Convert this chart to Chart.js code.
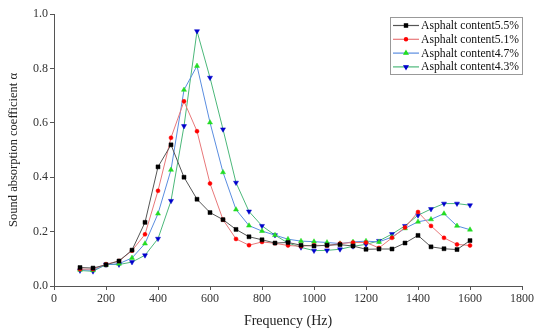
<!DOCTYPE html>
<html>
<head>
<meta charset="utf-8">
<script src="https://cdn.jsdelivr.net/npm/chart.js@4.4.0/dist/chart.umd.min.js"></script>
<style>
html,body{margin:0;padding:0;background:#fff;}
#wrap{width:550px;height:333px;position:relative;}
</style>
</head>
<body>
<div id="wrap"><canvas id="c"></canvas></div>
<script>
const frequencies = [100,150,200,250,300,350,400,450,500,550,600,650,700,750,800,850,900,950,1000,1050,1100,1150,1200,1250,1300,1350,1400,1450,1500,1550,1600];
const asphalt55 = [0.068,0.066,0.078,0.092,0.132,0.234,0.438,0.519,0.400,0.319,0.270,0.244,0.208,0.181,0.170,0.158,0.160,0.150,0.147,0.150,0.152,0.147,0.135,0.136,0.136,0.158,0.186,0.144,0.137,0.134,0.167];
const asphalt51 = [0.062,0.062,0.080,0.092,0.130,0.190,0.350,0.545,0.679,0.569,0.377,0.244,0.173,0.150,0.162,0.157,0.149,0.146,0.150,0.148,0.156,0.160,0.160,0.140,0.177,0.215,0.272,0.221,0.177,0.153,0.149];
const asphalt47 = [0.060,0.058,0.078,0.082,0.103,0.156,0.266,0.427,0.721,0.809,0.601,0.418,0.281,0.222,0.202,0.187,0.172,0.165,0.163,0.160,0.156,0.162,0.165,0.162,0.180,0.212,0.236,0.245,0.266,0.221,0.207];
const asphalt43 = [0.057,0.054,0.079,0.079,0.088,0.113,0.174,0.313,0.588,0.937,0.766,0.576,0.380,0.274,0.221,0.187,0.158,0.142,0.130,0.131,0.135,0.146,0.153,0.166,0.191,0.221,0.260,0.283,0.303,0.303,0.297];
const seriesLabels = ['Asphalt content5.5%','Asphalt content5.1%','Asphalt content4.7%','Asphalt content4.3%'];
const xTicks = [0,200,400,600,800,1000,1200,1400,1600,1800];
const yTicks = [0,0.2,0.4,0.6,0.8,1.0];

const FONT = "'Liberation Serif','Times New Roman',serif";

function pts(vals){ return frequencies.map((f,i)=>({x:f,y:vals[i]})); }

const styles = [
  {line:'#555555', mark:'#000000', shape:'rect', rot:0, r:2.8},
  {line:'#e8787a', mark:'#ff0000', shape:'circle', rot:0, r:2.0},
  {line:'#5a8de0', mark:'#22dd22', shape:'triangle', rot:0, r:2.9},
  {line:'#4cb87a', mark:'#0000cc', shape:'triangle', rot:180, r:2.9}
];
const allVals = [asphalt55, asphalt51, asphalt47, asphalt43];

const datasets = allVals.map((v,i)=>({
  label: seriesLabels[i],
  data: pts(v),
  borderColor: styles[i].line,
  borderWidth: 1,
  pointStyle: styles[i].shape,
  pointRotation: styles[i].rot,
  pointRadius: styles[i].r,
  pointBackgroundColor: styles[i].mark,
  pointBorderColor: styles[i].mark,
  pointBorderWidth: 0.5,
  tension: 0,
  fill: false
}));

const boxLegend = {
  id: 'boxLegend',
  afterDraw(chart){
    const ctx = chart.ctx;
    const x0 = 390, y0 = 17, w = 132, h = 57;
    ctx.save();
    ctx.fillStyle = '#fff';
    ctx.fillRect(x0,y0,w,h);
    ctx.strokeStyle = '#999';
    ctx.lineWidth = 1;
    ctx.strokeRect(x0+0.5,y0+0.5,w,h);
    ctx.font = '11.7px ' + FONT;
    ctx.textBaseline = 'middle';
    chart.data.datasets.forEach((ds,i)=>{
      const yy = y0 + 8.5 + i*13.8;
      ctx.strokeStyle = ds.borderColor;
      ctx.lineWidth = 1.2;
      ctx.beginPath(); ctx.moveTo(x0+3, yy); ctx.lineTo(x0+29, yy); ctx.stroke();
      ctx.fillStyle = ds.pointBackgroundColor;
      ctx.strokeStyle = ds.pointBorderColor;
      Chart.helpers.drawPoint(ctx, {pointStyle: ds.pointStyle, rotation: ds.pointRotation, radius: ds.pointRadius*0.8, borderWidth: 0.5}, x0+16, yy);
      ctx.fillStyle = '#111';
      ctx.fillText(ds.label, x0+31, yy+0.5);
    });
    ctx.restore();
  }
};

new Chart(document.getElementById('c'), {
  type: 'line',
  data: { datasets },
  plugins: [boxLegend],
  options: {
    responsive: true,
    maintainAspectRatio: false,
    animation: false,
    layout: { padding: { top: 14, right: 28, left: 0, bottom: 0 } },
    plugins: { legend: { display: false }, tooltip: { enabled: false } },
    scales: {
      x: {
        type: 'linear',
        min: 0, max: 1800,
        afterBuildTicks: s => { s.ticks = xTicks.map(v=>({value:v})); },
        afterFit: s => { s.height = 47; },
        ticks: { font: { family: FONT, size: 12 }, color: '#333', padding: 2, maxRotation: 0, callback: v => String(v) },
        grid: { display: true, drawOnChartArea: false, drawTicks: true, tickLength: 4, color: '#555' },
        border: { display: true, color: '#555', width: 1 },
        title: { display: true, text: 'Frequency (Hz)', font: { family: FONT, size: 14 }, color: '#222', padding: { top: 0, bottom: 3 } }
      },
      y: {
        type: 'linear',
        min: 0, max: 1,
        afterBuildTicks: s => { s.ticks = yTicks.map(v=>({value:v})); },
        afterFit: s => { s.width = 54; },
        ticks: { font: { family: FONT, size: 12 }, color: '#333', padding: 2, callback: v => Number(v).toFixed(1) },
        grid: { display: true, drawOnChartArea: false, drawTicks: true, tickLength: 4, color: '#555' },
        border: { display: true, color: '#555', width: 1 },
        title: { display: true, text: 'Sound absorption coefficient α', font: { family: FONT, size: 12.5 }, color: '#222', padding: { top: 6, bottom: 2 } }
      }
    }
  }
});
</script>
</body>
</html>
